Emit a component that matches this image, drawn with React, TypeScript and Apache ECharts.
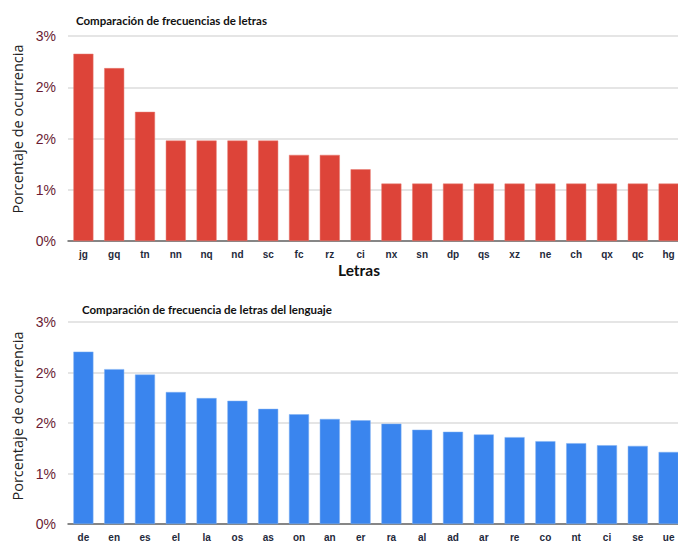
import React, { useEffect, useRef } from "react";
import * as echarts from "echarts";

const topTitle = "Comparación de frecuencias de letras";
const bottomTitle = "Comparación de frecuencia de letras del lenguaje";
const yAxisName = "Porcentaje de ocurrencia";
const xAxisName = "Letras";

const topCategories = ["jg", "gq", "tn", "nn", "nq", "nd", "sc", "fc", "rz", "ci", "nx", "sn", "dp", "qs", "xz", "ne", "ch", "qx", "qc", "hg"];
const topValues = [2.74, 2.53, 1.89, 1.47, 1.47, 1.47, 1.47, 1.26, 1.26, 1.05, 0.84, 0.84, 0.84, 0.84, 0.84, 0.84, 0.84, 0.84, 0.84, 0.84];

const bottomCategories = ["de", "en", "es", "el", "la", "os", "as", "on", "an", "er", "ra", "al", "ad", "ar", "re", "co", "nt", "ci", "se", "ue"];
const bottomValues = [2.56, 2.3, 2.22, 1.96, 1.87, 1.83, 1.71, 1.63, 1.56, 1.54, 1.49, 1.4, 1.37, 1.33, 1.29, 1.23, 1.2, 1.17, 1.16, 1.07];

const yMin = 0;
const yMax = 3;
const yInterval = 0.75;

export default function App() {
  const ref = useRef<HTMLDivElement>(null);
  useEffect(() => {
    document.body.style.margin = "0";
    document.body.style.overflow = "hidden";
    const chart = echarts.init(ref.current!, null, { renderer: "svg" });
    const yAxisCommon = (gridIndex: number) => ({
      type: "value" as const,
      gridIndex,
      min: yMin,
      max: yMax,
      interval: yInterval,
      axisLine: { show: false },
      axisTick: { show: false },
      axisLabel: {
        formatter: (v: number) => Math.round(v) + "%",
        color: "#6a1b33",
        fontSize: 14,
        fontFamily: "Liberation Sans, Arial, sans-serif",
        margin: 12,
      },
      splitLine: { lineStyle: { color: "#dcdcdc", width: 1.5 } },
    });
    const xAxisCommon = (gridIndex: number, data: string[]) => ({
      type: "category" as const,
      gridIndex,
      data,
      axisLine: { lineStyle: { color: "#666", width: 1.5 } },
      axisTick: { show: false },
      axisLabel: {
        color: "#1f2a3c",
        fontSize: 10,
        fontWeight: "bold" as const,
        fontFamily: "Liberation Sans, Arial, sans-serif",
        margin: 8,
        interval: 0,
      },
    });
    const titleStyle = { fontSize: 11.5, fontWeight: "bold" as const, color: "#111", fontFamily: "Lato, sans-serif" };
    const yNameStyle = { text: yAxisName, fontSize: 14.5, fill: "#222", fontFamily: "Open Sans, sans-serif", align: "center" as const, verticalAlign: "middle" as const };
    chart.setOption({
      animation: false,
      backgroundColor: "#fff",
      title: [
        { text: topTitle, left: 71, top: 9, textStyle: titleStyle },
        { text: bottomTitle, left: 77, top: 298, textStyle: titleStyle },
      ],
      grid: [
        { left: 68, right: 0, top: 36, height: 205 },
        { left: 68, right: 0, top: 322, height: 205 },
      ],
      xAxis: [xAxisCommon(0, topCategories), xAxisCommon(1, bottomCategories)],
      yAxis: [yAxisCommon(0), yAxisCommon(1)],
      graphic: [
        {
          type: "text",
          left: 338,
          top: 262,
          style: { text: xAxisName, fontSize: 15.5, fontWeight: "bold", fill: "#111", fontFamily: "Lato, sans-serif" },
        },
        { type: "text", x: 17, y: 129, rotation: Math.PI / 2, style: yNameStyle },
        { type: "text", x: 17, y: 416, rotation: Math.PI / 2, style: yNameStyle },
      ],
      series: [
        {
          type: "bar",
          xAxisIndex: 0,
          yAxisIndex: 0,
          data: topValues,
          barWidth: 20,
          itemStyle: { color: "#dd4439", borderColor: "#e77a70", borderWidth: 0.5 },
        },
        {
          type: "bar",
          xAxisIndex: 1,
          yAxisIndex: 1,
          data: bottomValues,
          barWidth: 20,
          itemStyle: { color: "#3a85ee", borderColor: "#7fb0f3", borderWidth: 0.5 },
        },
      ],
    });
    return () => chart.dispose();
  }, []);
  return <div ref={ref} style={{ width: 684, height: 542 }} />;
}
